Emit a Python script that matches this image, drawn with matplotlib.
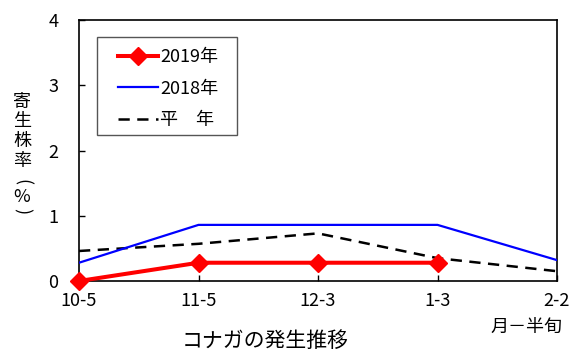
import matplotlib
import matplotlib.pyplot as plt
from matplotlib.patches import Rectangle

matplotlib.rc('font', family=['Noto Sans CJK JP', 'DejaVu Sans'], size=13)

# Data: parasitism rate (%) by half-month period
periods = ['10-5', '11-5', '12-3', '1-3', '2-2']
rate_2019 = [0.0, 0.28, 0.28, 0.28]
rate_2018 = [0.28, 0.86, 0.86, 0.86, 0.32]
rate_avg = [0.46, 0.57, 0.73, 0.35, 0.15]

W, H = 573, 353
fig = plt.figure(figsize=(W / 100, H / 100), dpi=100)
ax = fig.add_axes([79 / W, 1 - 281 / H, (557 - 79) / W, (281 - 20) / H])

x = list(range(len(periods)))
ax.plot(x[:len(rate_2019)], rate_2019, color='#ff0000', linewidth=2.9,
        marker='D', markersize=9, label='2019年', zorder=4, clip_on=False)
ax.plot(x, rate_2018, color='#0000ff', linewidth=1.6, label='2018年', zorder=3)
ax.plot(x, rate_avg, color='black', linewidth=1.8, dashes=(4.5, 3),
        label='平　年', zorder=2)

ax.set_xlim(0, 4)
ax.set_ylim(0, 4)
ax.set_xticks(x)
ax.set_xticklabels(periods)
ax.set_yticks(range(5))
ax.tick_params(direction='in', length=4, width=1)
ax.tick_params(axis='y', pad=15)
ax.tick_params(axis='x', pad=8)
for s in ax.spines.values():
    s.set_linewidth(1.2)

# legend box drawn separately so the padding can be wider than tall
ax.add_patch(Rectangle((97 / W, 1 - 135 / H), 140 / W, 98 / H, transform=fig.transFigure,
                       facecolor='white', edgecolor='#555555', linewidth=1.0,
                       zorder=5, clip_on=False))
leg = ax.legend(loc='upper left', bbox_to_anchor=((118 - 79) / 478, 1 - (48 - 20) / 261),
                frameon=False, handlelength=2.2, handletextpad=0.15,
                labelspacing=0.75, borderpad=0, borderaxespad=0, fontsize=13)
leg.set_zorder(6)

# vertical y-axis label, one character at a time
ylabel_chars = [('寄', 102, 0), ('生', 121, 0), ('株', 141, 0), ('率', 161, 0),
                ('(', 182, -90), ('%', 197, 0), (')', 211, -90)]
for ch, ypix, rot in ylabel_chars:
    fig.text(22 / W, 1 - ypix / H, ch, ha='center', va='center',
             rotation=rot, rotation_mode='anchor', fontsize=13)

fig.text(265 / W, 1 - 341 / H, 'コナガの発生推移', ha='center', va='center', fontsize=15)
fig.text(526 / W, 1 - 327 / H, '月－半旬', ha='center', va='center', fontsize=13)

fig.savefig('out.png', dpi=100)
